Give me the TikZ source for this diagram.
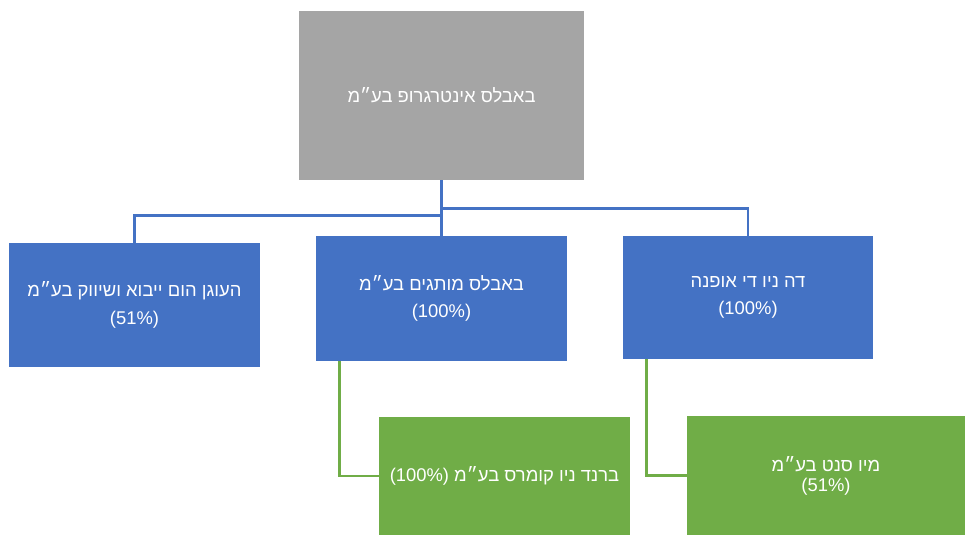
\documentclass[tikz,border=0pt]{standalone}
\usepackage{fontspec}
\setmainfont{Liberation Sans}
\newfontfamily\heb[Script=Hebrew]{Liberation Sans}
\TeXXeTstate=1
\definecolor{cgray}{HTML}{A5A5A5}
\definecolor{cblue}{HTML}{4472C4}
\definecolor{cgreen}{HTML}{70AD47}
\tikzset{
  box/.style={draw=none, inner sep=0pt, align=center, text=white, font=\heb\fontsize{13.8pt}{20.5pt}\selectfont},
  graybox/.style={box, fill=cgray},
  bluebox/.style={box, fill=cblue},
  greenbox/.style={box, fill=cgreen},
  blueline/.style={draw=cblue, line width=2.2pt},
  greenline/.style={draw=cgreen, line width=2.2pt},
}
\begin{document}
\begin{tikzpicture}[x=0.75pt,y=-0.75pt]
\useasboundingbox (0,0) rectangle (965,535);
\node[graybox, minimum width=285*0.75pt, minimum height=169*0.75pt] (top) at (441.5,95.5) {\beginR באבלס אינטרגרופ בע״מ\endR};
\node[bluebox, minimum width=251*0.75pt, minimum height=124*0.75pt] (lt) at (134.5,305) {\beginR העוגן הום ייבוא ושיווק בע״מ\endR\\(51\%)};
\node[bluebox, minimum width=251*0.75pt, minimum height=125*0.75pt] (mid) at (441.5,298.5) {\beginR באבלס מותגים בע״מ\endR\\(100\%)};
\node[bluebox, minimum width=250*0.75pt, minimum height=123*0.75pt] (rt) at (748,297.5) {\beginR דה ניו די אופנה\endR\\(100\%)};
\node[greenbox, minimum width=251*0.75pt, minimum height=118*0.75pt] (g1) at (504.5,476) {\beginR ברנד ניו קומרס בע״מ \beginL(100\%)\endL\endR};
\node[greenbox, minimum width=278*0.75pt, minimum height=119*0.75pt, font=\heb\fontsize{13.8pt}{15pt}\selectfont] (g2) at (826,475.5) {\beginR מיו סנט בע״מ\endR\\(51\%)};
\draw[blueline] (top.south) -- (mid.north);
\draw[blueline] ([yshift=-28*0.75pt]top.south) -| (rt.north);
\draw[blueline] ([yshift=-35*0.75pt]top.south) -| (lt.north);
\draw[greenline] ([xshift=24*0.75pt]mid.south west) |- (g1.west);
\draw[greenline] ([xshift=24*0.75pt]rt.south west) |- (g2.west);
\end{tikzpicture}
\end{document}
